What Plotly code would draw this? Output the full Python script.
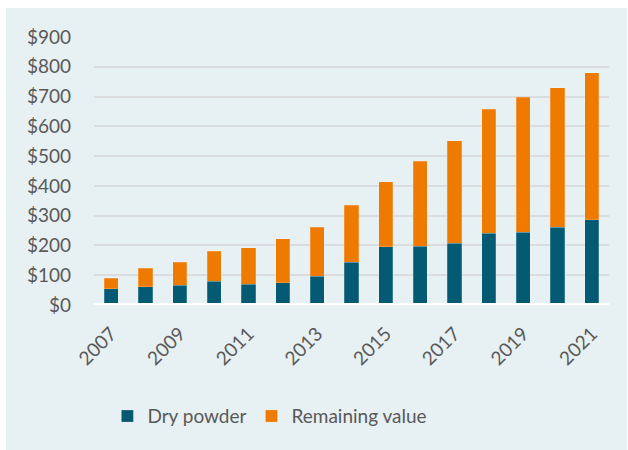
import plotly.graph_objects as go

# Annual values, $ billions
years = list(range(2007, 2022))
dry_powder = [54, 62, 66, 79, 69, 74, 96, 143, 195, 198, 208, 241, 245, 261, 287]
remaining_value = [36, 61, 78, 101, 124, 148, 165, 192, 219, 285, 344, 416, 452, 469, 493]

y_ticks = list(range(0, 1000, 100))
y_tick_labels = [f"${v}" for v in y_ticks]

DRY = "#045A73"
REM = "#EE7A00"
PANEL = "#E7F0F2"
TEXT = "#595959"
FONT = "Lato, 'Open Sans', sans-serif"

W, H = 628, 450
L, R, T, B = 94, 19, 37, 145

fig = go.Figure()
fig.add_trace(go.Bar(
    x=years, y=dry_powder, name="Dry powder",
    marker=dict(color=DRY, line=dict(color="rgba(255,255,255,0.25)", width=0.8)),
))
fig.add_trace(go.Bar(
    x=years, y=remaining_value, name="Remaining value",
    marker=dict(color=REM, line=dict(color="rgba(255,255,255,0.25)", width=0.8)),
))

# light panel behind the whole chart
fig.add_shape(
    type="rect", xref="paper", yref="paper", layer="below",
    x0=(6 - L) / (W - L - R), x1=(627 - L) / (W - L - R),
    y0=(H - B - 450) / (H - T - B), y1=(H - B - 8) / (H - T - B),
    fillcolor=PANEL, line=dict(width=0),
)
# white baseline along zero
fig.add_shape(
    type="line", xref="paper", yref="y", layer="above",
    x0=0, x1=1, y0=0, y1=0,
    line=dict(color="white", width=4),
)

fig.update_layout(
    width=W, height=H,
    margin=dict(l=L, r=R, t=T, b=B, pad=0),
    paper_bgcolor="white", plot_bgcolor=PANEL,
    barmode="stack", bargap=0.59,
    font=dict(family=FONT, size=19, color=TEXT),
    showlegend=True,
    legend=dict(
        orientation="h", x=0.026, xanchor="left", y=-0.415, yanchor="middle",
        font=dict(family=FONT, size=19, color=TEXT),
        bgcolor="rgba(0,0,0,0)", itemclick=False, traceorder="normal",
    ),
    xaxis=dict(
        range=[2006.5, 2021.5], tickmode="array",
        tickvals=years[::2], ticktext=[str(y) for y in years[::2]],
        tickangle=-45, showgrid=False, zeroline=False, showline=False,
        ticks="", ticklabelstandoff=13,
        tickfont=dict(family=FONT, size=19, color=TEXT),
    ),
    yaxis=dict(
        range=[0, 900], tickmode="array", tickvals=y_ticks, ticktext=y_tick_labels,
        showgrid=True, gridcolor="#DADCDD", gridwidth=1.5,
        zeroline=False, showline=False, ticks="", ticklabelstandoff=22,
        tickfont=dict(family=FONT, size=19, color=TEXT),
    ),
)

fig.write_html("out.html")
